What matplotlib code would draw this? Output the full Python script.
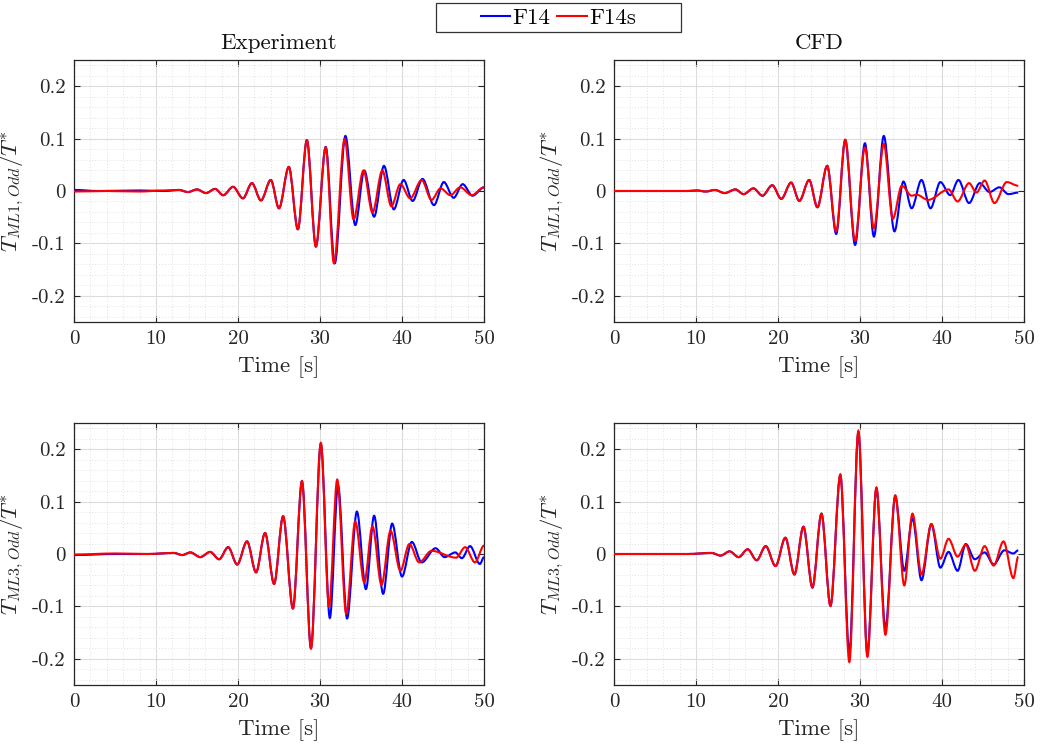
import numpy as np
import matplotlib
matplotlib.use("Agg")
import matplotlib.pyplot as plt
from matplotlib.path import Path
from matplotlib.patches import PathPatch, Rectangle
from matplotlib.lines import Line2D

# Peak / trough samples (time [s], normalised torque) for each run
exp_ml1_f14_t = [0, 3, 8, 11, 12.8, 13.9, 15.0, 16.1, 17.2, 18.2, 19.4, 20.6, 21.7, 22.8, 24.0, 25.0,
                 26.2, 27.3, 28.4, 29.5, 30.7, 31.8, 33.1, 34.3, 35.4, 36.6, 37.8, 39.0, 40.2, 41.3,
                 42.5, 43.9, 45.1, 46.3, 47.4, 48.6, 50.0]
exp_ml1_f14_v = [0.002, 0.000, 0.001, 0.000, 0.002, -0.002, 0.003, -0.004, 0.004, -0.008, 0.008, -0.014,
                 0.015, -0.018, 0.021, -0.033, 0.046, -0.073, 0.097, -0.106, 0.084, -0.138, 0.105, -0.065,
                 0.039, -0.049, 0.048, -0.035, 0.021, -0.019, 0.023, -0.027, 0.017, -0.013, 0.013, -0.009,
                 0.007]
exp_ml1_f14s_t = [0, 4, 8, 11, 12.8, 13.9, 15.0, 16.1, 17.2, 18.2, 19.4, 20.6, 21.7, 22.8, 24.0, 25.0,
                  26.2, 27.3, 28.4, 29.5, 30.7, 31.7, 33.0, 34.1, 35.3, 36.4, 37.6, 38.7, 39.8, 41.0,
                  42.4, 43.6, 44.7, 45.9, 47.1, 48.5, 50.0]
exp_ml1_f14s_v = [-0.001, 0.000, -0.001, 0.001, 0.002, -0.002, 0.003, -0.004, 0.004, -0.008, 0.008, -0.014,
                  0.015, -0.018, 0.021, -0.033, 0.046, -0.073, 0.097, -0.106, 0.083, -0.138, 0.099, -0.054,
                  0.039, -0.041, 0.039, -0.029, 0.013, -0.014, 0.021, -0.017, 0.005, -0.008, 0.007, -0.008,
                  0.007]

cfd_ml1_f14_t = [0, 9, 10.1, 11.2, 12.3, 13.5, 14.8, 15.8, 17.0, 18.1, 19.3, 20.4, 21.6, 22.6, 23.8, 24.8,
                 26.0, 27.1, 28.2, 29.4, 30.6, 31.7, 32.9, 34.2, 35.3, 36.3, 37.5, 38.6, 39.8, 41.0, 42.0,
                 43.3, 44.6, 45.8, 47.0, 48.1, 49.3]
cfd_ml1_f14_v = [0, 0, 0.001, -0.001, 0.002, -0.004, 0.003, -0.006, 0.005, -0.009, 0.011, -0.015, 0.016,
                 -0.019, 0.021, -0.031, 0.048, -0.082, 0.097, -0.103, 0.091, -0.087, 0.105, -0.077, 0.018,
                 -0.033, 0.021, -0.033, 0.017, -0.008, 0.021, -0.023, 0.015, -0.002, 0.007, -0.006, -0.003]
cfd_ml1_f14s_t = [0, 9, 10.1, 11.2, 12.3, 13.5, 14.8, 15.8, 17.0, 18.1, 19.3, 20.4, 21.6, 22.6, 23.8, 24.8,
                  26.0, 27.1, 28.2, 29.4, 30.6, 31.7, 32.9, 34.0, 35.1, 36.3, 36.9, 38.3, 40.8, 41.9, 43.3,
                  44.2, 45.2, 46.4, 47.9, 49.3]
cfd_ml1_f14s_v = [0, 0, 0.001, -0.001, 0.002, -0.004, 0.003, -0.006, 0.005, -0.009, 0.011, -0.015, 0.016,
                  -0.019, 0.021, -0.031, 0.048, -0.077, 0.098, -0.095, 0.083, -0.071, 0.090, -0.053, 0.010,
                  -0.009, -0.007, -0.017, 0.003, -0.020, 0.015, -0.003, 0.020, -0.023, 0.017, 0.010]

exp_ml3_f14_t = [0, 5, 9, 12.2, 13.2, 14.2, 15.4, 16.6, 17.7, 18.8, 19.9, 21.1, 22.2, 23.3, 24.4, 25.5,
                 26.7, 27.8, 28.9, 30.1, 31.2, 32.2, 33.3, 34.5, 35.6, 36.6, 37.7, 38.8, 40.0, 41.2, 42.4,
                 44.1, 45.2, 46.5, 47.3, 48.3, 49.5, 50.0]
exp_ml3_f14_v = [-0.002, 0.000, 0.000, 0.002, -0.002, 0.003, -0.006, 0.004, -0.010, 0.013, -0.020, 0.024,
                 -0.035, 0.040, -0.057, 0.072, -0.104, 0.139, -0.180, 0.210, -0.122, 0.131, -0.123, 0.081,
                 -0.067, 0.073, -0.076, 0.058, -0.043, 0.023, -0.016, 0.011, -0.006, 0.003, -0.008, 0.015,
                 -0.019, -0.006]
exp_ml3_f14s_t = [0, 5, 9, 12.2, 13.2, 14.2, 15.4, 16.6, 17.7, 18.8, 19.9, 21.1, 22.2, 23.3, 24.4, 25.5,
                  26.7, 27.8, 28.9, 30.1, 31.1, 32.1, 33.2, 34.3, 35.4, 36.4, 37.5, 38.6, 39.8, 40.9, 42.1,
                  43.6, 46.6, 47.7, 48.9, 50.0]
exp_ml3_f14s_v = [-0.001, 0.001, 0.000, 0.002, -0.002, 0.003, -0.006, 0.004, -0.010, 0.013, -0.020, 0.024,
                  -0.035, 0.040, -0.057, 0.072, -0.104, 0.139, -0.180, 0.212, -0.100, 0.142, -0.114, 0.062,
                  -0.054, 0.053, -0.059, 0.044, -0.032, 0.019, -0.016, 0.006, -0.007, 0.013, -0.016, 0.016]

cfd_ml3_f14_t = [0, 9, 11.9, 13.0, 14.1, 15.2, 16.3, 17.4, 18.5, 19.7, 20.9, 22.0, 23.1, 24.2, 25.3, 26.4,
                 27.6, 28.7, 29.8, 30.9, 32.0, 33.1, 34.3, 35.4, 36.4, 37.5, 38.7, 39.8, 40.8, 41.9, 42.9,
                 44.0, 45.2, 46.3, 47.6, 48.7, 49.3]
cfd_ml3_f14_v = [0, 0, 0.002, -0.003, 0.005, -0.006, 0.009, -0.012, 0.015, -0.023, 0.031, -0.039, 0.052,
                 -0.064, 0.077, -0.099, 0.150, -0.189, 0.232, -0.190, 0.125, -0.142, 0.110, -0.032, 0.068,
                 -0.050, 0.057, -0.026, 0.004, -0.032, 0.019, -0.010, 0.003, -0.020, 0.007, 0.001, 0.007]
cfd_ml3_f14s_t = [0, 9, 11.9, 13.0, 14.1, 15.2, 16.3, 17.4, 18.5, 19.7, 20.9, 22.0, 23.1, 24.2, 25.3, 26.4,
                  27.6, 28.7, 29.8, 30.9, 32.0, 33.1, 34.3, 35.4, 36.4, 37.5, 38.7, 39.8, 40.8, 41.9, 42.9,
                  44.0, 45.2, 46.3, 47.5, 48.7, 49.3]
cfd_ml3_f14s_v = [0, 0, 0.002, -0.003, 0.005, -0.006, 0.009, -0.012, 0.015, -0.023, 0.031, -0.039, 0.052,
                  -0.064, 0.077, -0.099, 0.152, -0.206, 0.235, -0.196, 0.127, -0.154, 0.112, -0.060, 0.077,
                  -0.039, 0.057, -0.009, 0.029, -0.005, 0.018, -0.032, 0.015, -0.022, 0.024, -0.046, -0.005]

titles = ["Experiment", "CFD"]
ylabels = [r"$T_{ML1,Odd}/T^{*}$", r"$T_{ML3,Odd}/T^{*}$"]
series_names = ["F14", "F14s"]
xticks = [0, 10, 20, 30, 40, 50]
yticks = [-0.2, -0.1, 0, 0.1, 0.2]
ytick_labels = ["-0.2", "-0.1", "0", "0.1", "0.2"]

BLUE = "#0000FF"
RED = "#FF0000"
AX_C = "#262626"

plt.rcParams["font.family"] = "cmr10"
plt.rcParams["mathtext.fontset"] = "cm"
plt.rcParams["axes.unicode_minus"] = False


def smooth_trace(ax, t, v, color):
    # cubic segments between extrema, flat tangent at each sample
    verts = [(t[0], v[0])]
    codes = [Path.MOVETO]
    for i in range(1, len(t)):
        dt = t[i] - t[i - 1]
        verts += [(t[i - 1] + dt / 3, v[i - 1]), (t[i] - dt / 3, v[i]), (t[i], v[i])]
        codes += [Path.CURVE4] * 3
    ax.add_patch(PathPatch(Path(verts, codes), facecolor="none", edgecolor=color,
                           linewidth=1.5, transform=ax.transData, zorder=3))


fig = plt.figure(figsize=(10.4, 7.45), dpi=100, facecolor="white")

W, H = 1040, 745
lefts = [74, 614]
tops = [60, 423]
ax_w, ax_h = 410, 262

panels = [
    [(exp_ml1_f14_t, exp_ml1_f14_v, exp_ml1_f14s_t, exp_ml1_f14s_v),
     (cfd_ml1_f14_t, cfd_ml1_f14_v, cfd_ml1_f14s_t, cfd_ml1_f14s_v)],
    [(exp_ml3_f14_t, exp_ml3_f14_v, exp_ml3_f14s_t, exp_ml3_f14s_v),
     (cfd_ml3_f14_t, cfd_ml3_f14_v, cfd_ml3_f14s_t, cfd_ml3_f14s_v)],
]

for r in range(2):
    for c in range(2):
        ax = fig.add_axes([lefts[c] / W, 1 - (tops[r] + ax_h) / H, ax_w / W, ax_h / H])
        t1, v1, t2, v2 = panels[r][c]
        smooth_trace(ax, t1, v1, BLUE)
        smooth_trace(ax, t2, v2, RED)

        ax.set_xlim(0, 50)
        ax.set_ylim(-0.25, 0.25)
        ax.set_xticks(xticks)
        ax.set_xticklabels([str(x) for x in xticks])
        ax.set_yticks(yticks)
        ax.set_yticklabels(ytick_labels)
        ax.set_xticks(np.arange(0, 50.1, 2), minor=True)
        ax.set_yticks(np.arange(-0.24, 0.241, 0.02), minor=True)
        ax.tick_params(which="major", direction="in", length=4, width=0.8, top=True, right=True,
                       labelsize=15, colors=AX_C, pad=6)
        ax.tick_params(which="minor", length=0, top=True, right=True)
        ax.grid(which="major", color="#DCDCDC", linewidth=0.8, zorder=0)
        ax.grid(which="minor", color="#E2E2E2", linewidth=0.7, linestyle=(0, (1, 2)), zorder=0)
        ax.set_axisbelow(True)
        for s in ax.spines.values():
            s.set_color(AX_C)
            s.set_linewidth(0.9)

        ax.set_xlabel("Time [s]", fontsize=16.5, color=AX_C, labelpad=6)
        ax.set_ylabel(ylabels[r], fontsize=16.5, color=AX_C, labelpad=4)
        if r == 0:
            ax.set_title(titles[c], fontsize=16.5, color="#111111", pad=8)

handles = [Line2D([], [], color=BLUE, linewidth=1.5), Line2D([], [], color=RED, linewidth=1.5)]
fig.patches.append(Rectangle((436 / W, 1 - 32 / H), 245 / W, 29 / H, transform=fig.transFigure,
                             facecolor="white", edgecolor="#333333", linewidth=0.9, zorder=0))
fig.legend(handles, series_names, loc="center", bbox_to_anchor=(558.5 / W, 1 - 17.5 / H),
           ncol=2, frameon=False, fontsize=16.5, handlelength=1.3, handletextpad=0.1,
           columnspacing=0.3)

fig.savefig("out.png", dpi=100, facecolor="white")
